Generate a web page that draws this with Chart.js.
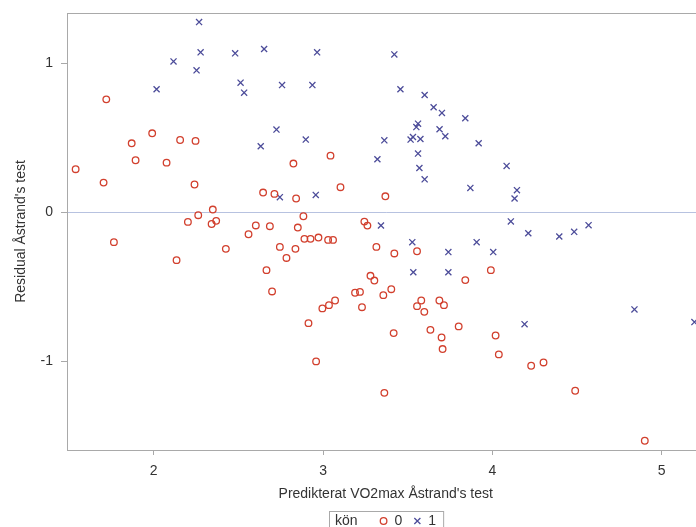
<!DOCTYPE html>
<html>
<head>
<meta charset="utf-8">
<script src="https://cdn.jsdelivr.net/npm/chart.js@4.4.1/dist/chart.umd.min.js"></script>
<style>
  html, body { margin: 0; padding: 0; background: #fff; overflow: hidden; }
  #residualChart { display: block; }
</style>
</head>
<body>
<canvas id="residualChart" width="710" height="527"></canvas>
<script>
// predicted VO2max (x) and residual of the Åstrand test (y), split by kön
const kon0X = [1.720, 1.539, 1.704, 1.870, 1.893, 1.991, 2.076, 2.156, 2.247, 2.241,
    2.825, 2.646, 2.713, 2.841, 2.349, 2.263, 2.202, 2.369, 2.342, 2.603,
    2.686, 1.765, 2.135, 2.426, 2.560, 2.851, 2.745, 2.837, 2.784, 2.666,
    2.699, 3.044, 3.103, 3.368, 2.884, 3.244, 3.262, 2.890, 2.926, 2.973,
    3.030, 3.059, 3.315, 3.421, 3.555, 3.280, 3.303, 3.189, 3.218, 3.403,
    3.356, 3.071, 3.035, 2.996, 3.230, 2.914, 2.959, 3.417, 3.362, 3.580,
    3.555, 3.598, 3.687, 3.714, 3.634, 3.700, 3.706, 3.801, 3.840, 3.991,
    4.019, 4.038, 4.229, 4.302, 4.489, 4.900];
const kon0Y = [0.758, 0.289, 0.199, 0.463, 0.349, 0.530, 0.333, 0.485, 0.479, 0.186,
    0.327, 0.132, 0.123, 0.092, 0.018, -0.020, -0.065, -0.058, -0.079, -0.089,
    -0.094, -0.201, -0.322, -0.246, -0.148, -0.103, -0.233, -0.246, -0.307, -0.389,
    -0.532, 0.380, 0.168, 0.107, -0.027, -0.063, -0.090, -0.179, -0.179, -0.170,
    -0.186, -0.186, -0.233, -0.277, -0.262, -0.427, -0.459, -0.541, -0.535, -0.517,
    -0.557, -0.593, -0.624, -0.646, -0.638, -0.745, -1.002, -0.812, -1.213, -0.593,
    -0.631, -0.669, -0.593, -0.624, -0.790, -0.841, -0.919, -0.767, -0.456, -0.389,
    -0.828, -0.955, -1.031, -1.009, -1.199, -1.535];

const kon1X = [2.268, 2.117, 2.277, 2.253, 2.481, 2.652, 2.017, 2.513, 2.534, 2.758,
    2.725, 2.632, 2.745, 2.965, 3.421, 2.937, 3.457, 3.600, 3.653, 3.702,
    3.840, 3.561, 3.551, 3.688, 3.722, 3.531, 3.517, 3.575, 3.362, 2.898,
    3.919, 3.561, 3.321, 3.569, 3.600, 4.084, 3.870, 4.145, 4.131, 2.957,
    3.342, 4.109, 3.527, 3.740, 3.907, 4.005, 3.533, 3.740, 4.212, 4.395,
    4.483, 4.568, 4.190, 4.839, 5.193];
const kon1Y = [1.277, 1.013, 1.074, 0.953, 1.067, 1.096, 0.826, 0.870, 0.803, 0.854,
    0.555, 0.443, 0.101, 1.074, 1.060, 0.854, 0.826, 0.787, 0.705, 0.667,
    0.631, 0.595, 0.572, 0.557, 0.510, 0.505, 0.488, 0.492, 0.483, 0.488,
    0.463, 0.394, 0.356, 0.297, 0.221, 0.311, 0.163, 0.148, 0.092, 0.116,
    -0.089, -0.062, -0.201, -0.268, -0.201, -0.268, -0.403, -0.403, -0.141, -0.163,
    -0.132, -0.087, -0.752, -0.653, -0.738];

const groupLabels = ['0', '1'];
const xTicks = [2, 3, 4, 5];
const yTicks = [-1, 0, 1];

const FONT = "'Liberation Sans', Arial, sans-serif";
const RED = '#d2402e';
const BLUE = '#4d4d9a';
const FRAME = '#a9a9a9';

Chart.defaults.font.family = FONT;
Chart.defaults.font.size = 14;
Chart.defaults.color = '#333';

const toPoints = (xs, ys) => xs.map((x, i) => ({ x: x, y: ys[i] }));

// no extra room for half tick labels at the ends of the axes
function noEdgePadding(s) {
    s.paddingTop = 0;
    s.paddingBottom = 0;
    s.paddingLeft = 0;
    s.paddingRight = 0;
}

// box around the whole plot area
const frame = {
    id: 'frame',
    beforeDatasetsDraw(chart) {
        const { ctx, chartArea: a } = chart;
        ctx.save();
        ctx.strokeStyle = FRAME;
        ctx.lineWidth = 1;
        ctx.strokeRect(a.left + 0.5, a.top + 0.5, a.right - a.left, a.bottom - a.top);
        ctx.restore();
    }
};

// inline legend: "kön  o 0  x 1" inside a bordered box under the axis title
const legendBox = {
    id: 'legendBox',
    afterDraw(chart) {
        const { ctx, chartArea: a } = chart;
        const title = 'kön';
        const sets = chart.data.datasets;
        ctx.save();
        ctx.font = '14px ' + FONT;
        ctx.textBaseline = 'middle';

        let w = 6 + ctx.measureText(title).width + 22;
        sets.forEach((ds, i) => {
            w += 8 + 7 + ctx.measureText(ds.label).width;
            if (i < sets.length - 1) w += 11;
        });
        w += 7;

        const cx = (a.left + a.right) / 2;
        const left = Math.round(cx - w / 2);
        const top = 511;
        const midY = 521;

        ctx.strokeStyle = FRAME;
        ctx.lineWidth = 1;
        ctx.strokeRect(left + 0.5, top + 0.5, w, 30);

        let x = left + 6;
        ctx.fillStyle = '#333';
        ctx.textAlign = 'left';
        ctx.fillText(title, x, midY);
        x += ctx.measureText(title).width + 22;

        sets.forEach((ds) => {
            ctx.strokeStyle = ds.borderColor;
            ctx.fillStyle = ds.backgroundColor;
            ctx.lineWidth = ds.borderWidth;
            Chart.helpers.drawPoint(ctx, {
                pointStyle: ds.pointStyle,
                radius: ds.pointRadius,
                rotation: 0,
                borderWidth: ds.borderWidth
            }, x + 4, midY);
            x += 8 + 7;
            ctx.fillStyle = '#333';
            ctx.fillText(ds.label, x, midY);
            x += ctx.measureText(ds.label).width + 11;
        });
        ctx.restore();
    }
};

const ctx = document.getElementById('residualChart').getContext('2d');

new Chart(ctx, {
    type: 'scatter',
    data: {
        datasets: [{
            label: groupLabels[0],
            data: toPoints(kon0X, kon0Y),
            pointStyle: 'circle',
            pointRadius: 3.3,
            borderWidth: 1.3,
            borderColor: RED,
            backgroundColor: 'rgba(0,0,0,0)'
        }, {
            label: groupLabels[1],
            data: toPoints(kon1X, kon1Y),
            pointStyle: 'crossRot',
            pointRadius: 4.3,
            borderWidth: 1.3,
            borderColor: BLUE,
            backgroundColor: BLUE
        }]
    },
    options: {
        responsive: false,
        animation: false,
        devicePixelRatio: 1,
        layout: { padding: { top: 13, right: 1, bottom: 20, left: 0 } },
        plugins: {
            legend: { display: false },
            tooltip: { enabled: false }
        },
        scales: {
            x: {
                type: 'linear',
                min: 1.488,
                max: 5.252,
                afterBuildTicks: s => { s.ticks = xTicks.map(v => ({ value: v })); },
                afterFit: s => { s.height = 57; noEdgePadding(s); },
                border: { color: FRAME },
                grid: { drawOnChartArea: false, color: FRAME, tickLength: 5 },
                ticks: { padding: 8, color: '#333' },
                title: {
                    display: true,
                    text: "Predikterat VO2max Åstrand's test",
                    color: '#333',
                    padding: { top: 0, bottom: 4 }
                }
            },
            y: {
                type: 'linear',
                min: -1.597,
                max: 1.338,
                afterBuildTicks: s => { s.ticks = yTicks.map(v => ({ value: v })); },
                afterFit: s => { s.width = 67; noEdgePadding(s); },
                border: { color: FRAME },
                grid: {
                    color: c => (c.tick && c.tick.value === 0) ? '#b7c2e0' : 'rgba(0,0,0,0)',
                    tickColor: FRAME,
                    tickLength: 6
                },
                ticks: { padding: 8, color: '#333' },
                title: {
                    display: true,
                    text: "Residual Åstrand's test",
                    color: '#333',
                    padding: { top: 13, bottom: 0 }
                }
            }
        }
    },
    plugins: [frame, legendBox]
});
</script>
</body>
</html>
